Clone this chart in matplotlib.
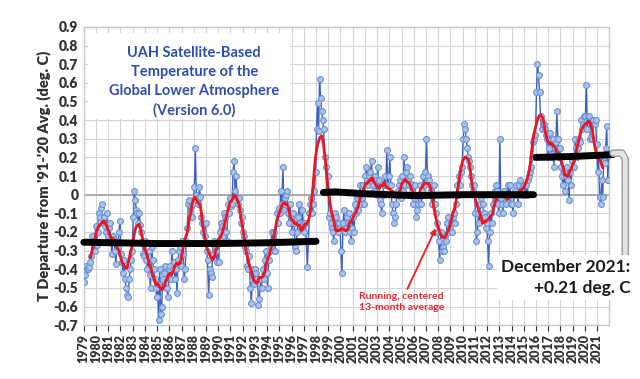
import numpy as np
import matplotlib.pyplot as plt
from matplotlib.patches import Rectangle

plt.rcParams['font.family'] = ['Lato', 'DejaVu Sans']

# monthly anomalies (deg C), one row per year, 1979..2021
years = list(range(1979, 2022))
monthly = [
    [-0.47, -0.43, -0.38, -0.40, -0.40, -0.39, -0.36, -0.33, -0.22, -0.25, -0.30, -0.17],  # 1979
    [-0.27, -0.20, -0.10, -0.12, -0.07, -0.05, -0.15, -0.12, -0.17, -0.20, -0.10, -0.22],  # 1980
    [-0.18, -0.15, -0.24, -0.32, -0.22, -0.24, -0.30, -0.37, -0.25, -0.28, -0.20, -0.14],  # 1981
    [-0.32, -0.36, -0.42, -0.35, -0.45, -0.50, -0.54, -0.55, -0.45, -0.40, -0.35, -0.30],  # 1982
    [-0.12, 0.02, -0.03, -0.08, -0.10, -0.15, -0.10, -0.16, -0.20, -0.25, -0.32, -0.33],   # 1983
    [-0.25, -0.35, -0.40, -0.30, -0.43, -0.50, -0.28, -0.35, -0.40, -0.45, -0.50, -0.55],  # 1984
    [-0.48, -0.67, -0.40, -0.64, -0.60, -0.45, -0.42, -0.38, -0.50, -0.50, -0.55, -0.40],  # 1985
    [-0.38, -0.45, -0.30, -0.40, -0.36, -0.45, -0.40, -0.53, -0.35, -0.30, -0.28, -0.38],  # 1986
    [-0.25, -0.32, -0.45, -0.40, -0.25, -0.18, -0.05, -0.03, -0.10, -0.06, -0.12, -0.05],  # 1987
    [0.04, 0.25, 0.00, -0.02, -0.05, 0.04, -0.01, -0.12, -0.15, -0.20, -0.22, -0.15],      # 1988
    [-0.30, -0.35, -0.54, -0.40, -0.42, -0.44, -0.32, -0.25, -0.28, -0.30, -0.36, -0.25],  # 1989
    [-0.36, -0.20, -0.15, -0.17, -0.22, -0.10, -0.12, -0.20, -0.25, -0.05, -0.10, -0.02],  # 1990
    [-0.06, -0.05, 0.12, 0.18, 0.02, 0.10, -0.02, -0.05, -0.02, -0.08, -0.15, -0.12],      # 1991
    [-0.20, -0.22, -0.28, -0.30, -0.38, -0.40, -0.33, -0.50, -0.58, -0.45, -0.40, -0.48],  # 1992
    [-0.40, -0.42, -0.45, -0.59, -0.56, -0.45, -0.50, -0.40, -0.45, -0.35, -0.30, -0.42],  # 1993
    [-0.50, -0.35, -0.30, -0.28, -0.20, -0.25, -0.20, -0.30, -0.25, -0.10, -0.15, -0.07],  # 1994
    [-0.10, 0.02, -0.05, 0.15, -0.08, -0.02, 0.00, 0.02, -0.10, -0.15, -0.05, -0.12],      # 1995
    [-0.20, -0.10, -0.15, -0.28, -0.30, -0.20, -0.12, -0.05, -0.15, -0.18, -0.08, -0.15],  # 1996
    [-0.20, -0.15, -0.25, -0.39, -0.25, -0.10, -0.05, -0.02, -0.10, -0.05, 0.02, 0.12],    # 1997
    [0.35, 0.49, 0.34, 0.62, 0.52, 0.45, 0.40, 0.35, 0.20, 0.15, 0.02, 0.10],              # 1998
    [-0.12, -0.10, -0.15, -0.18, -0.20, -0.25, -0.10, -0.12, -0.15, -0.20, -0.15, -0.18],  # 1999
    [-0.30, -0.42, -0.15, -0.08, -0.20, -0.18, -0.12, -0.15, -0.10, -0.20, -0.25, -0.18],  # 2000
    [-0.12, -0.20, -0.05, -0.10, -0.02, -0.08, 0.00, 0.05, -0.05, -0.02, 0.05, -0.05],     # 2001
    [0.10, 0.15, 0.08, 0.05, 0.10, 0.12, 0.18, 0.05, 0.02, 0.10, 0.08, 0.00],              # 2002
    [0.15, 0.08, -0.03, -0.05, -0.10, 0.00, 0.05, 0.10, 0.05, 0.24, 0.05, 0.10],           # 2003
    [0.20, 0.05, -0.05, -0.10, -0.15, -0.12, -0.05, 0.00, 0.02, 0.05, 0.08, -0.02],        # 2004
    [0.10, 0.02, 0.20, 0.05, 0.12, 0.15, 0.08, 0.05, 0.10, 0.06, 0.02, -0.05],             # 2005
    [-0.02, 0.05, -0.12, -0.08, -0.05, 0.00, 0.05, -0.05, 0.02, 0.10, 0.05, 0.12],         # 2006
    [0.30, 0.10, 0.08, 0.05, 0.02, -0.05, 0.00, 0.05, -0.05, -0.10, -0.15, -0.20],         # 2007
    [-0.25, -0.35, -0.20, -0.30, -0.28, -0.30, -0.22, -0.25, -0.15, -0.12, -0.20, -0.18],  # 2008
    [-0.15, -0.20, -0.12, -0.10, -0.15, -0.05, 0.05, 0.00, 0.10, 0.05, 0.12, 0.15],        # 2009
    [0.30, 0.38, 0.35, 0.30, 0.25, 0.20, 0.18, 0.15, 0.10, 0.05, 0.02, 0.05],              # 2010
    [-0.10, -0.25, -0.20, -0.10, -0.15, -0.05, -0.02, -0.05, -0.10, -0.12, -0.18, -0.15],  # 2011
    [-0.25, -0.38, -0.20, -0.10, -0.15, -0.05, 0.00, 0.02, 0.05, 0.02, -0.05, -0.10],      # 2012
    [0.30, -0.02, -0.05, -0.10, 0.02, 0.00, -0.05, -0.02, 0.05, 0.00, 0.05, -0.05],        # 2013
    [-0.05, -0.10, 0.00, 0.02, 0.05, 0.00, -0.05, 0.05, 0.08, 0.02, 0.00, 0.05],           # 2014
    [0.05, 0.00, 0.05, 0.00, 0.08, 0.10, 0.12, 0.15, 0.20, 0.28, 0.30, 0.32],              # 2015
    [0.55, 0.70, 0.64, 0.55, 0.42, 0.35, 0.38, 0.38, 0.35, 0.32, 0.30, 0.20],              # 2016
    [0.25, 0.33, 0.20, 0.22, 0.30, 0.15, 0.25, 0.28, 0.45, 0.30, 0.20, 0.25],              # 2017
    [0.15, 0.10, 0.05, 0.12, 0.02, 0.10, 0.15, 0.08, -0.03, 0.12, 0.05, 0.18],             # 2018
    [0.20, 0.15, 0.30, 0.25, 0.20, 0.25, 0.30, 0.28, 0.40, 0.35, 0.38, 0.42],              # 2019
    [0.42, 0.59, 0.35, 0.42, 0.42, 0.30, 0.31, 0.30, 0.40, 0.38, 0.40, 0.27],              # 2020
    [0.12, 0.20, -0.01, -0.05, 0.08, -0.01, 0.20, 0.17, 0.25, 0.37, 0.08, 0.21],           # 2021
]

# hand-drawn black "step" lines (year, value)
step1_x = [1979.0, 1985.0, 1990.0, 1994.0, 1998.0]
step1_y = [-0.255, -0.262, -0.262, -0.258, -0.25]
step2_x = [1998.6, 1999.6, 2002.0, 2006.0, 2010.0, 2015.8]
step2_y = [0.012, 0.015, 0.005, -0.005, 0.0, 0.0]
step3_x = [2016.0, 2019.0, 2022.3]
step3_y = [0.200, 0.205, 0.215]

y_ticks = np.round(np.arange(-0.7, 0.91, 0.1), 1)

anom = np.array(monthly).ravel()
t = 1979 + (np.arange(len(anom)) + 0.5) / 12
run13 = np.convolve(anom, np.ones(13) / 13, mode='valid')
t13 = t[6:len(anom) - 6]

fig = plt.figure(figsize=(6.4, 3.79), dpi=100)
ax = fig.add_axes([0.131, 0.142, 0.821, 0.787])

ax.plot(t, anom, color='#3A5FC0', lw=1.0, marker='o', ms=4.2,
        mfc='#A9C4EA', mec='#6C8FD0', mew=0.8, zorder=3)
ax.plot(t13, run13, color='#F0141E', lw=2.0, zorder=4)

for sx, sy in [(step1_x, step1_y), (step2_x, step2_y), (step3_x, step3_y)]:
    ax.plot(sx, sy, color='black', lw=5, solid_capstyle='round', zorder=5, clip_on=False)

ax.set_xlim(1979, 2022)
ax.set_ylim(-0.7, 0.9)
ax.set_yticks(y_ticks)
ax.set_yticklabels(['0' if v == 0 else f'{v:.1f}' for v in y_ticks])
ax.set_xticks(years)
ax.set_xticklabels([str(y) for y in years], rotation=90)
ax.tick_params(axis='x', length=4, pad=2, labelsize=9, colors='#333333', width=0.8)
ax.tick_params(axis='y', length=0, pad=4, labelsize=10, colors='#333333')
for lab in ax.get_xticklabels() + ax.get_yticklabels():
    lab.set_fontweight('heavy')

ax.grid(True, color='#D4D4D4', lw=0.8)
ax.set_axisbelow(True)
ax.axhline(0, color='#A0A0A0', lw=1.2, zorder=1)
for s in ax.spines.values():
    s.set_color('#C8C8C8')
    s.set_linewidth(1.0)

ax.set_ylabel("T Departure from '91-'20 Avg. (deg. C)", fontsize=10.5,
              fontweight='heavy', color='#303030', labelpad=2)

# title box
ax.add_patch(Rectangle((0.008, 0.69), 0.385, 0.29, transform=ax.transAxes,
                       facecolor='white', edgecolor='none', zorder=2))
ax.text(0.21, 0.935, 'UAH Satellite-Based\nTemperature of the\nGlobal Lower Atmosphere\n(Version 6.0)',
        transform=ax.transAxes, ha='center', va='top', fontsize=10.5,
        fontweight='bold', color='#2F4FAF', linespacing=1.45, zorder=6)

# running-average label and arrow
ax.annotate('Running, centered\n13-month average', xy=(2007.8, -0.18), xytext=(2001.5, -0.52),
            fontsize=7.5, color='#E8262A', ha='left', va='top', fontweight='bold', linespacing=1.3,
            arrowprops=dict(arrowstyle='-|>', color='#E8262A', lw=1.4, mutation_scale=8,
                            shrinkA=0, shrinkB=0), zorder=6)

# callout connector
conn_x = [0.958, 0.972, 0.977, 0.977]
conn_y = [0.596, 0.596, 0.58, 0.315]
fig.lines.append(plt.Line2D(conn_x, conn_y, transform=fig.transFigure, color='#9A9A9A', lw=5.5,
                            solid_joinstyle='round', solid_capstyle='round'))
fig.lines.append(plt.Line2D(conn_x, conn_y, transform=fig.transFigure, color='#E4E4E4', lw=3.5,
                            solid_joinstyle='round', solid_capstyle='round'))

fig.text(0.985, 0.268, 'December 2021:\n+0.21 deg. C', ha='right', va='center',
         fontsize=12.5, fontweight='bold', color='#1A1A1A', linespacing=1.35,
         bbox=dict(facecolor='white', edgecolor='none', pad=3), zorder=7)

fig.savefig('out.png', dpi=100)
